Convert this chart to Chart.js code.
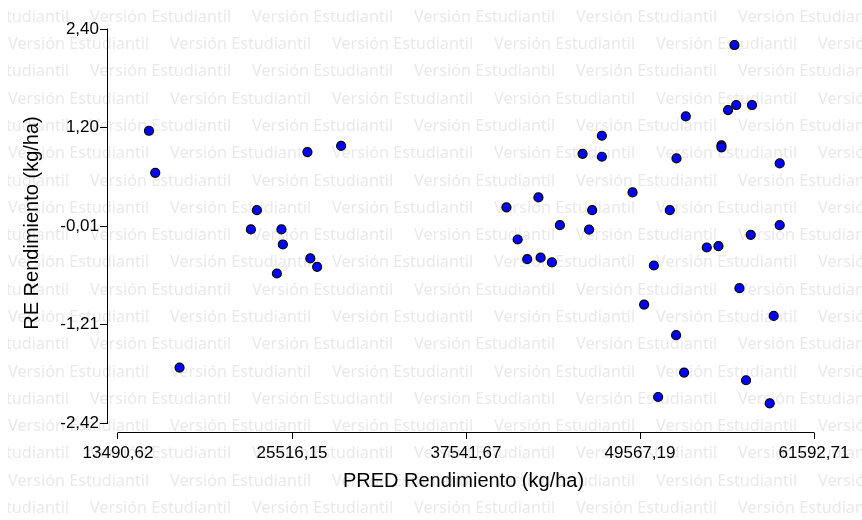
<!DOCTYPE html>
<html>
<head>
<meta charset="utf-8">
<script src="https://cdn.jsdelivr.net/npm/chart.js@4.4.0/dist/chart.umd.min.js"></script>
<style>
  html, body { margin: 0; padding: 0; background: #fff; }
</style>
</head>
<body>
<canvas id="residCht" width="862" height="520"></canvas>
<script>
// predicted yield (kg/ha) and standardized residual for each plot
const predVals = [15631, 16066, 17744, 22674, 23089, 24470, 24787, 24884, 26583, 26783,
                  27252, 28910, 40337, 41111, 41773, 42547, 42699, 43479, 44032, 45599,
                  46048, 46262, 46932, 46932, 49052, 49853, 50523, 50819, 51627, 52062,
                  52090, 52615, 52732, 54182, 54990, 55197, 55197, 55653, 56095, 56219,
                  56440, 56896, 57220, 57310, 58532, 58809, 59223, 59223];
const resVals = [1.155, 0.641, -1.742, -0.052, 0.184, -0.591, -0.052, -0.236, 0.894, -0.407,
                 -0.510, 0.971, 0.218, -0.175, -0.416, 0.340, -0.397, -0.456, 0.000, 0.873,
                 -0.055, 0.184, 1.094, 0.837, 0.401, -0.971, -0.493, -2.102, 0.184, -1.346,
                 0.817, -1.803, 1.331, -0.273, -0.257, 0.977, 0.953, 1.408, 2.204, 1.470,
                 -0.771, -1.897, -0.118, 1.470, -2.179, -1.110, 0.756, 0.000];

const xTickVals = [13490.62, 25516.15, 37541.67, 49567.19, 61592.71];
const xTickLbls = ['13490,62', '25516,15', '37541,67', '49567,19', '61592,71'];
const yTickVals = [-2.42, -1.21, -0.01, 1.20, 2.40];
const yTickLbls = ['-2,42', '-1,21', '-0,01', '1,20', '2,40'];

const xTitle = 'PRED Rendimiento (kg/ha)';
const yTitle = 'RE Rendimiento (kg/ha)';
const stamp = 'Versión Estudiantil';

const txtFont = "'Liberation Sans', Arial, sans-serif";

let points = predVals.map(function(p, i) {
    return { x: p, y: resVals[i] };
});

// light repeated text behind the whole canvas
const stampPlugin = {
    id: 'stamp',
    beforeDraw: function(chart) {
        const c = chart.ctx;
        c.save();
        c.fillStyle = '#fff';
        c.fillRect(0, 0, chart.width, chart.height);
        c.beginPath();
        c.rect(8, 0, chart.width - 8, chart.height);
        c.clip();
        c.font = "16.2px 'Noto Sans', sans-serif";
        c.fillStyle = '#e9e9e9';
        c.textBaseline = 'middle';
        c.textAlign = 'left';
        for (let r = 0; r < 19; r++) {
            let y = 17.3 + r * 27.28;
            let start = (r % 2 === 0) ? 90 : 8;
            for (let x = start - 162; x < chart.width; x += 162) {
                c.fillText(stamp, x, y);
            }
        }
        c.restore();
    }
};

// axis lines that run only between the first and last tick, plus axis titles
const axesPlugin = {
    id: 'axesLines',
    beforeDatasetsDraw: function(chart) {
        const c = chart.ctx;
        const xs = chart.scales.x, ys = chart.scales.y;
        const area = chart.chartArea;
        const x0 = xs.getPixelForValue(xTickVals[0]);
        const x1 = xs.getPixelForValue(xTickVals[xTickVals.length - 1]);
        const y0 = ys.getPixelForValue(yTickVals[yTickVals.length - 1]);
        const y1 = ys.getPixelForValue(yTickVals[0]);
        c.save();
        c.strokeStyle = '#000';
        c.lineWidth = 1;
        c.beginPath();
        c.moveTo(Math.round(x0) - 0.5, Math.round(area.bottom) - 0.5);
        c.lineTo(Math.round(x1) + 0.5, Math.round(area.bottom) - 0.5);
        c.moveTo(Math.round(area.left) - 0.5, Math.round(y0) - 0.5);
        c.lineTo(Math.round(area.left) - 0.5, Math.round(y1) + 0.5);
        c.stroke();

        c.fillStyle = '#000';
        c.font = '20px ' + txtFont;
        c.textAlign = 'center';
        c.textBaseline = 'middle';
        c.fillText(xTitle, (x0 + x1) / 2 - 2.5, area.bottom + 48.5);
        c.translate(area.left - 76, (y0 + y1) / 2 - 3);
        c.rotate(-Math.PI / 2);
        c.fillText(yTitle, 0, 0);
        c.restore();
    }
};

var ctx = document.getElementById('residCht');
var residChart = new Chart(ctx, {
    type: 'scatter',
    data: {
        datasets: [{
            label: 'RE Rendimiento',
            data: points,
            backgroundColor: '#0000ff',
            borderColor: '#000',
            borderWidth: 1.2,
            pointRadius: 4.5,
            pointHoverRadius: 4.5
        }]
    },
    options: {
        responsive: false,
        animation: false,
        events: [],
        layout: {
            padding: { left: 0, right: 48, top: 29, bottom: 0 }
        },
        plugins: {
            legend: { display: false },
            tooltip: { enabled: false }
        },
        scales: {
            x: {
                type: 'linear',
                min: 12799.5,
                max: 61592.71,
                afterBuildTicks: function(scale) {
                    scale.ticks = xTickVals.map(function(v) { return { value: v }; });
                },
                afterFit: function(scale) {
                    scale.height = 87;
                },
                border: { display: false },
                grid: {
                    drawOnChartArea: false,
                    drawTicks: true,
                    tickLength: 6,
                    color: '#000',
                    tickColor: '#000',
                    lineWidth: 1
                },
                ticks: {
                    autoSkip: false,
                    maxRotation: 0,
                    padding: 4,
                    color: '#000',
                    font: { family: txtFont, size: 17 },
                    callback: function(value, index) { return xTickLbls[index]; }
                }
            },
            y: {
                type: 'linear',
                min: -2.5423,
                max: 2.40,
                afterBuildTicks: function(scale) {
                    scale.ticks = yTickVals.map(function(v) { return { value: v }; });
                },
                afterFit: function(scale) {
                    scale.width = 108;
                },
                border: { display: false },
                grid: {
                    drawOnChartArea: false,
                    drawTicks: true,
                    tickLength: 8,
                    color: '#000',
                    tickColor: '#000',
                    lineWidth: 1
                },
                ticks: {
                    autoSkip: false,
                    padding: 1,
                    color: '#000',
                    font: { family: txtFont, size: 17 },
                    callback: function(value, index) { return yTickLbls[index]; }
                }
            }
        }
    },
    plugins: [stampPlugin, axesPlugin]
});
</script>
</body>
</html>
